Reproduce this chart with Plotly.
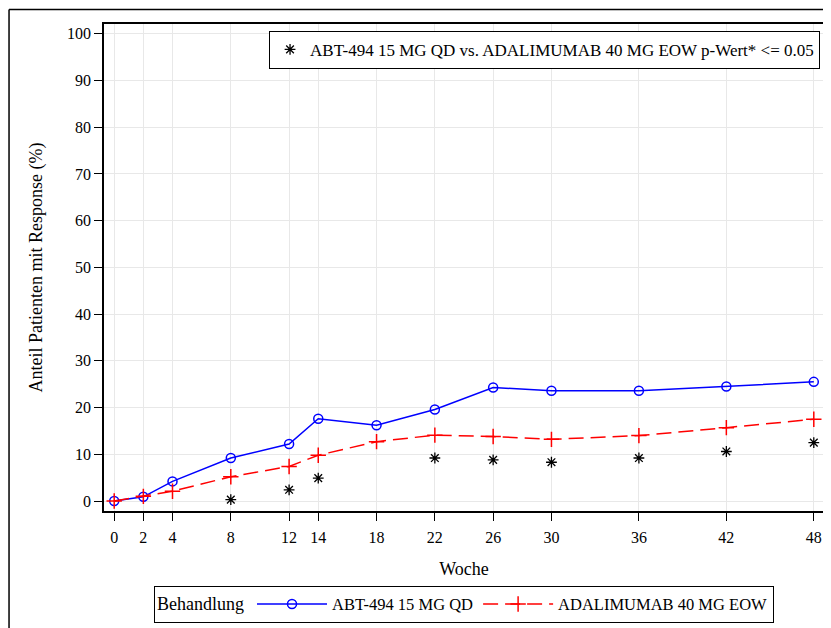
import plotly.graph_objects as go

weeks = [0, 2, 4, 8, 12, 14, 18, 22, 26, 30, 36, 42, 48]
abt = [0.0, 0.9, 4.2, 9.2, 12.2, 17.6, 16.2, 19.6, 24.3, 23.6, 23.6, 24.5, 25.5]
ada = [0.0, 1.0, 2.1, 5.2, 7.4, 9.8, 12.7, 14.1, 13.8, 13.2, 14.0, 15.7, 17.5]
sig_weeks = [8, 12, 14, 22, 26, 30, 36, 42, 48]
sig_vals = [0.3, 2.4, 4.9, 9.2, 8.8, 8.3, 9.2, 10.6, 12.5]
y_ticks = [0, 10, 20, 30, 40, 50, 60, 70, 80, 90, 100]

FONT = "Liberation Serif, Times New Roman, serif"

fig = go.Figure()
fig.add_trace(go.Scatter(
    x=weeks, y=abt, mode="lines+markers", name="ABT-494 15 MG QD",
    line=dict(color="#0000ff", width=1.5),
    marker=dict(symbol="circle-open", size=9, color="#0000ff", line=dict(width=1.5)),
    legend="legend"))
fig.add_trace(go.Scatter(
    x=weeks, y=ada, mode="lines+markers", name="ADALIMUMAB 40 MG EOW",
    line=dict(color="#ff0000", width=1.5, dash="15px,7px"),
    marker=dict(symbol="cross-thin-open", size=11, color="#ff0000", line=dict(width=1.5, color="#ff0000")),
    legend="legend"))
fig.add_trace(go.Scatter(
    x=sig_weeks, y=sig_vals, mode="markers",
    name="ABT-494 15 MG QD vs. ADALIMUMAB 40 MG EOW p-Wert* <= 0.05",
    marker=dict(symbol="asterisk-open", size=9, color="black", line=dict(width=1.3, color="black")),
    legend="legend2"))

fig.update_layout(
    width=823, height=620,
    margin=dict(l=96, r=5, t=16, b=116),
    paper_bgcolor="white", plot_bgcolor="white",
    font=dict(family=FONT, size=16, color="black"),
    xaxis=dict(
        range=[-0.7, 48.7], tickvals=weeks, ticktext=[str(w) for w in weeks],
        showgrid=True, gridcolor="#e8e8e8", gridwidth=1,
        showline=True, linecolor="black", linewidth=1.5, mirror=True,
        ticks="outside", ticklen=8, tickcolor="black", tickwidth=1,
        tickfont=dict(size=16), zeroline=False, ticklabelstandoff=3,
        title=dict(text="Woche", font=dict(size=18), standoff=17),
    ),
    yaxis=dict(
        range=[-2.14, 102.1], tickvals=y_ticks,
        showgrid=True, gridcolor="#e8e8e8", gridwidth=1,
        showline=True, linecolor="black", linewidth=1.5, mirror=True,
        ticks="outside", ticklen=8, tickcolor="black", tickwidth=1,
        tickfont=dict(size=16), zeroline=False,
        title=dict(text="Anteil Patienten mit Response (%)", font=dict(size=18), standoff=20),
    ),
    legend=dict(
        orientation="h", x=0.5, xanchor="center", y=-0.2295, yanchor="bottom",
        bordercolor="black", borderwidth=1, bgcolor="white",
        font=dict(size=16.5), title=dict(text="Behandlung", side="left", font=dict(size=18)),
        itemwidth=70,
    ),
    legend2=dict(
        x=0.9945, xanchor="right", y=0.986, yanchor="top",
        bordercolor="black", borderwidth=1, bgcolor="white",
        font=dict(size=17),
    ),
    showlegend=True,
)

# outer frame of the graph page
fig.add_shape(type="line", xref="paper", yref="paper",
              x0=-0.1319, x1=1.2, y0=1.0297, y1=1.0297,
              line=dict(color="black", width=1.5))
fig.add_shape(type="line", xref="paper", yref="paper",
              x0=-0.1319, x1=-0.1319, y0=1.0297, y1=-0.4,
              line=dict(color="black", width=1.5))

fig.write_html("out.html")
